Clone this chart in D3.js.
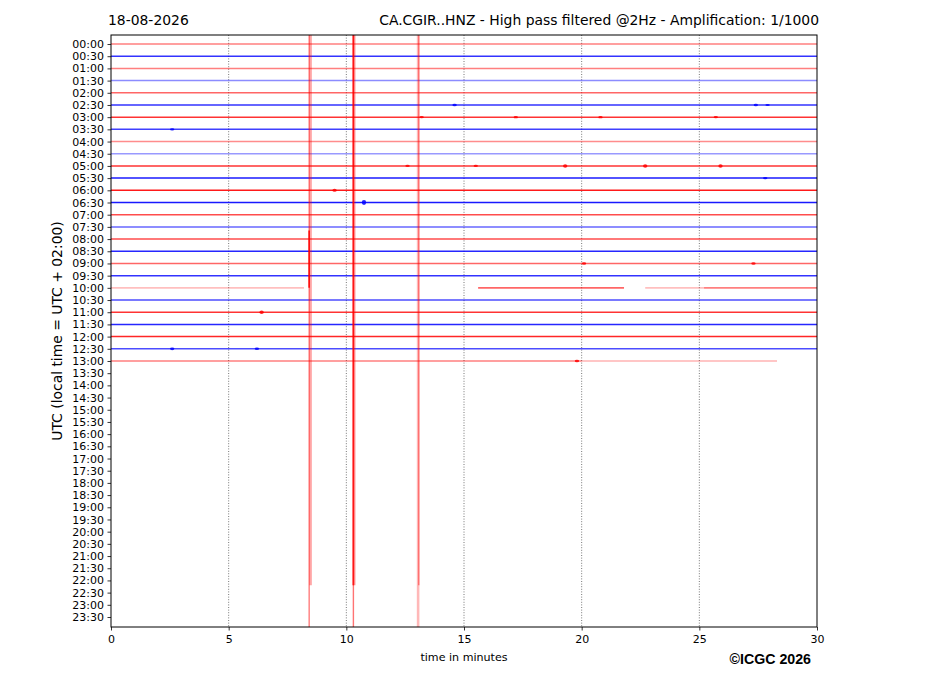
<!DOCTYPE html>
<html><head><meta charset="utf-8">
<script src="https://cdn.jsdelivr.net/npm/d3@7"></script>
<style>
html,body{margin:0;padding:0;background:#fff;}
svg{display:block;}
text{font-family:"DejaVu Sans",sans-serif;fill:#000;}
</style></head>
<body><svg id="chart" width="927" height="696"></svg>
<script>
// ---- data ----
const dateLabel = "18-08-2026";
const titleText = "CA.CGIR..HNZ - High pass filtered @2Hz - Amplification: 1/1000";
const yAxisLabel = "UTC (local time = UTC + 02:00)";
const xAxisLabel = "time in minutes";
const creditText = "\u00A9ICGC 2026";
const rowLabels = ["00:00","00:30","01:00","01:30","02:00","02:30","03:00","03:30","04:00","04:30",
  "05:00","05:30","06:00","06:30","07:00","07:30","08:00","08:30","09:00","09:30",
  "10:00","10:30","11:00","11:30","12:00","12:30","13:00","13:30","14:00","14:30",
  "15:00","15:30","16:00","16:30","17:00","17:30","18:00","18:30","19:00","19:30",
  "20:00","20:30","21:00","21:30","22:00","22:30","23:00","23:30"];
const xTicks = [0,5,10,15,20,25,30];
const gridMinutes = [5,10,15,20,25];
// trace intensity (apparent opacity) for recorded half-hours 00:00..13:00
const traceOpacity = [0.5,0.8,0.5,0.45,0.6,0.8,0.8,0.75,0.45,0.4,
  0.8,0.9,0.9,0.9,0.7,0.6,0.7,0.85,0.6,0.8,
  0.3,0.7,0.8,0.85,0.85,0.7,0.5];
const traceColors = ["#ff0000","#0000ff"];
// partial segments: [row, startMinute, endMinute, opacity]
const partialSegments = [
  [20, 0, 8.2, 0.25],[20, 15.6, 21.8, 0.6],[20, 22.7, 25.2, 0.25],[20, 25.2, 30, 0.5],
  [26, 0, 20.0, 0.5],[26, 20.0, 28.3, 0.3]
];
// small events: [row, minute, amplitude(px)]
const events = [
  [5,14.6,1.3],[5,27.4,1.3],[5,27.9,1.1],
  [6,13.2,1.1],[6,17.2,1.2],[6,20.8,1.2],[6,25.7,1.1],
  [7,2.6,1.2],
  [10,12.6,1.1],[10,15.5,1.1],[10,19.3,1.7],[10,22.7,1.7],[10,25.9,1.7],
  [11,27.8,1.2],
  [12,9.5,1.5],
  [13,10.75,2.4],
  [18,20.1,1.2],[18,27.3,1.2],
  [22,6.4,1.8],
  [25,2.6,1.4],[25,6.2,1.3],
  [26,19.8,1.3]
];
// large event traces: [minute, fromRow, toRow, width, opacity]
const spikes = [
  [8.42,-0.74,47.82,1.2,0.6],[8.48,-0.74,44.4,2.6,0.35],[8.42,15.3,20.0,1.6,0.9],
  [10.30,-0.74,47.82,1.4,0.55],[10.33,-0.74,44.4,2.6,0.45],[10.29,-0.74,44.4,1.2,0.85],
  [13.05,-0.74,47.82,2.6,0.28],[13.08,-0.74,44.4,1.2,0.5]
];

// ---- chart ----
const svg = d3.select("#chart");
const x = d3.scaleLinear().domain([0,30]).range([111,817]);
const y = d3.scaleLinear().domain([-0.74,47.82]).range([35,627]);

// grid
svg.append("g").selectAll("line").data(gridMinutes).join("line")
  .attr("x1",d=>x(d)).attr("x2",d=>x(d)).attr("y1",y(-0.74)).attr("y2",y(47.82))
  .attr("stroke","#555").attr("stroke-width",0.8).attr("stroke-dasharray","1,1.6");

const line = d3.line().x(d=>x(d[0])).y(d=>y(d[1]));
const traces = svg.append("g");
const specialRows = new Set(partialSegments.map(s=>s[0]));
traceOpacity.forEach((op,i)=>{
  if (specialRows.has(i)) return;
  traces.append("path").attr("d",line([[0,i],[30,i]]))
    .attr("stroke",traceColors[i%2]).attr("stroke-opacity",op).attr("stroke-width",1.5).attr("fill","none");
});
partialSegments.forEach(s=>{
  traces.append("path").attr("d",line([[s[1],s[0]],[s[2],s[0]]]))
    .attr("stroke",traceColors[s[0]%2]).attr("stroke-opacity",s[3]).attr("stroke-width",1.6).attr("fill","none");
});
traces.selectAll("ellipse").data(events).join("ellipse")
  .attr("cx",d=>x(d[1])).attr("cy",d=>y(d[0])).attr("rx",2.2).attr("ry",d=>d[2])
  .attr("fill",d=>traceColors[d[0]%2]).attr("fill-opacity",0.85);

svg.append("g").selectAll("path").data(spikes).join("path")
  .attr("d",d=>line([[d[0],d[1]],[d[0],d[2]]]))
  .attr("stroke","#ff0000").attr("stroke-width",d=>d[3]).attr("stroke-opacity",d=>d[4]).attr("fill","none");

// axes
const xAxis = svg.append("g").attr("transform",`translate(0,${y(47.82)})`)
  .call(d3.axisBottom(x).tickValues(xTicks).tickSize(3.5).tickPadding(5).tickFormat(d3.format("d")));
const yAxis = svg.append("g").attr("transform",`translate(${x(0)},0)`)
  .call(d3.axisLeft(y).tickValues(d3.range(rowLabels.length)).tickSize(3.5).tickPadding(3.5).tickFormat(i=>rowLabels[i]));
[xAxis,yAxis].forEach(g=>{
  g.select(".domain").remove();
  g.selectAll("text").attr("font-family","DejaVu Sans").attr("font-size","11px").attr("fill","#000");
  g.selectAll(".tick line").attr("stroke","#000").attr("stroke-width",0.8);
});
svg.append("rect").attr("x",x(0)).attr("y",y(-0.74)).attr("width",x(30)-x(0)).attr("height",y(47.82)-y(-0.74))
  .attr("fill","none").attr("stroke","#000").attr("stroke-width",1);

// texts
svg.append("text").attr("x",108).attr("y",25).attr("font-size","13.9px").text(dateLabel);
svg.append("text").attr("x",819).attr("y",25).attr("text-anchor","end").attr("font-size","13.9px").text(titleText);
svg.append("text").attr("transform","translate(62,331) rotate(-90)").attr("text-anchor","middle")
  .attr("font-size","13.9px").text(yAxisLabel);
svg.append("text").attr("x",464).attr("y",661).attr("text-anchor","middle").attr("font-size","11.1px").text(xAxisLabel);
svg.append("text").attr("x",811).attr("y",664).attr("text-anchor","end")
  .style("font-family","'Liberation Sans',Arial,sans-serif").attr("font-weight","bold").attr("font-size","14.2px").text(creditText);
</script></body></html>
